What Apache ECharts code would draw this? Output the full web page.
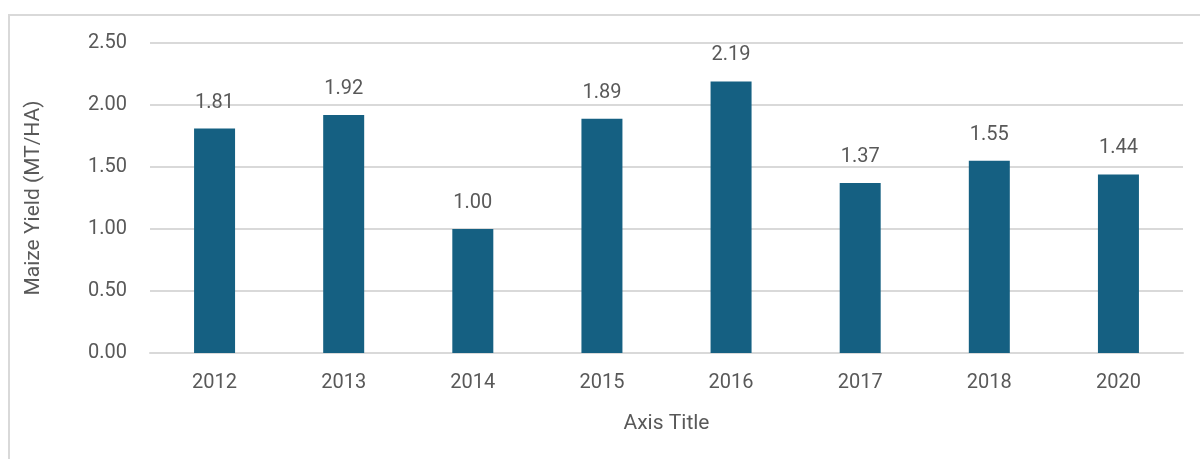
<!DOCTYPE html>
<html>
<head>
<meta charset="utf-8">
<style>
  html, body { margin: 0; padding: 0; background: #fff; }
  #frame { position: absolute; left: 8px; top: 14px; width: 1200px; height: 460px; border: 2px solid #d9d9d9; border-right: none; border-bottom: none; box-sizing: border-box; }
  #chart { position: absolute; left: 0; top: 0; width: 1200px; height: 459px; }
</style>
<script src="https://cdn.jsdelivr.net/npm/echarts@6/dist/echarts.min.js"></script>
</head>
<body>
<div id="frame"></div>
<div id="chart"></div>
<script>
// data
const years = ['2012', '2013', '2014', '2015', '2016', '2017', '2018', '2020'];
const yieldValues = [1.81, 1.92, 1.00, 1.89, 2.19, 1.37, 1.55, 1.44];

const textColor = '#595959';
const fontFamily = 'Roboto, "Open Sans", sans-serif';

const myChart = echarts.init(document.getElementById('chart'));

const option = {
    animation: false,
    grid: { left: 150, right: 17, top: 43, bottom: 106, containLabel: false },
    xAxis: {
        type: 'category',
        data: years,
        name: 'Axis Title',
        nameLocation: 'middle',
        nameGap: 60,
        nameTextStyle: { color: textColor, fontSize: 21, fontFamily: fontFamily },
        axisLine: { lineStyle: { color: '#d9d9d9', width: 2 } },
        axisTick: { show: false },
        axisLabel: { color: textColor, fontSize: 20, fontFamily: fontFamily, margin: 20 }
    },
    yAxis: {
        type: 'value',
        min: 0,
        max: 2.5,
        interval: 0.5,
        name: 'Maize Yield (MT/HA)',
        nameLocation: 'middle',
        nameGap: 106,
        nameTextStyle: { color: textColor, fontSize: 21, fontFamily: fontFamily },
        axisLine: { show: false },
        axisTick: { show: false },
        splitLine: { lineStyle: { color: '#d9d9d9', width: 2 } },
        axisLabel: {
            color: textColor, fontSize: 20, fontFamily: fontFamily, margin: 23,
            formatter: v => v.toFixed(2)
        }
    },
    series: [
        {
            type: 'bar',
            data: yieldValues,
            barWidth: 41,
            itemStyle: { color: '#156082' },
            label: {
                show: true,
                position: 'top',
                distance: 16,
                color: textColor,
                fontSize: 20,
                fontFamily: fontFamily,
                formatter: p => p.value.toFixed(2)
            }
        }
    ]
};

myChart.setOption(option);
window.addEventListener('resize', () => myChart.resize());
</script>
</body>
</html>
